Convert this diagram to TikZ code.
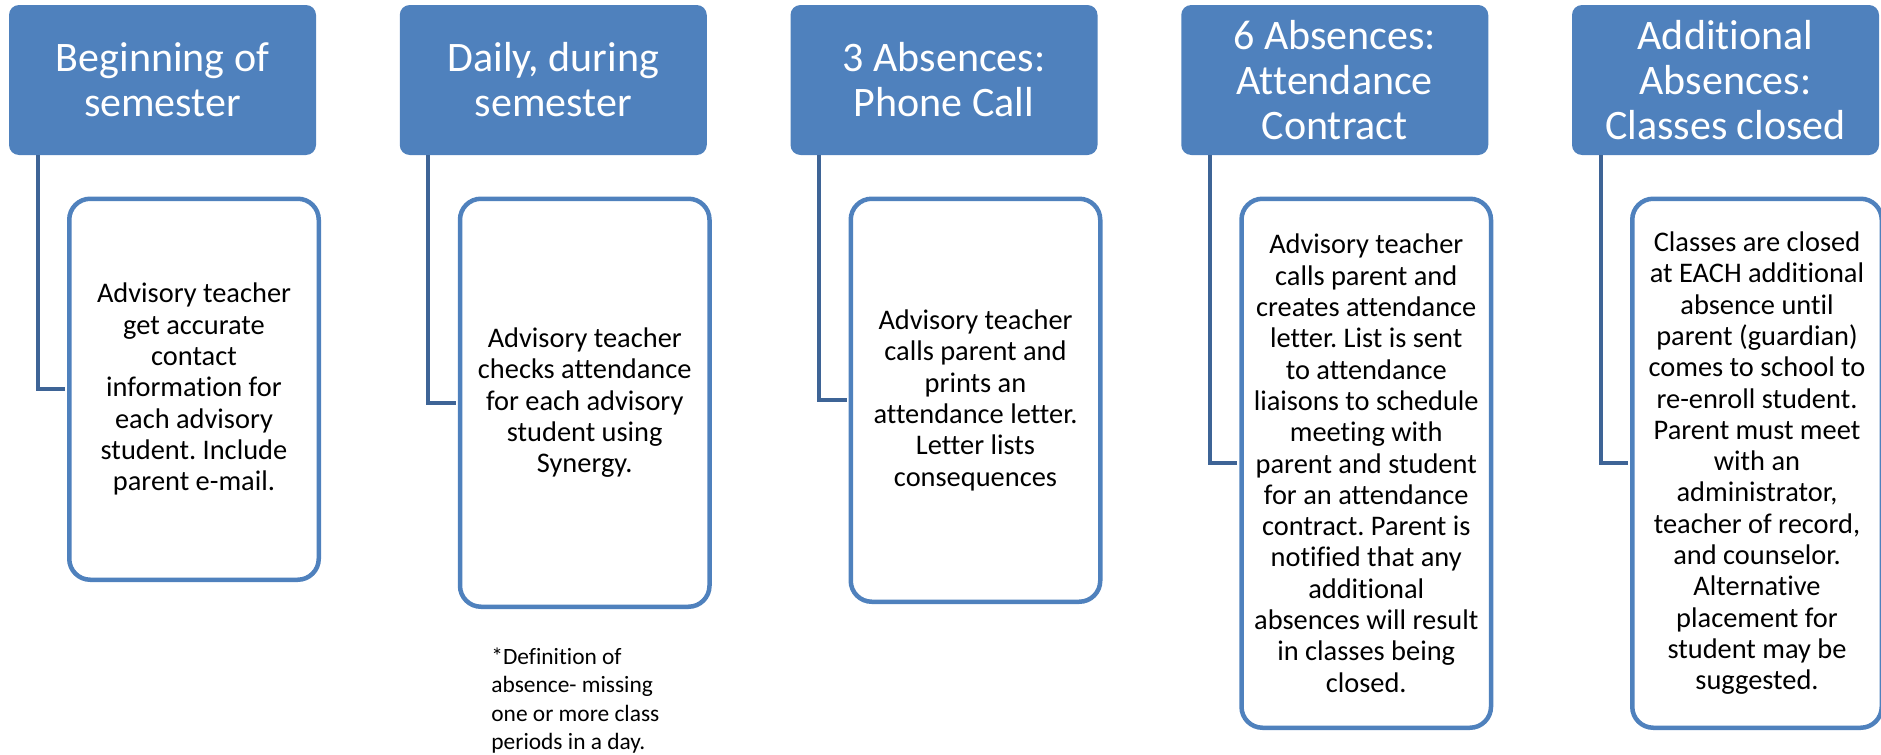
\documentclass[tikz,border=0pt]{standalone}
\usepackage{fontspec}
\setmainfont{Carlito}[Ligatures=NoCommon]
\usepackage{tikz}
\definecolor{headblue}{RGB}{79,129,189}
\definecolor{linkblue}{RGB}{62,100,150}
\tikzset{
  head/.style={fill=headblue, text=white, rounded corners=5pt,
    minimum width=153.5pt, minimum height=75pt, align=center,
    font={\fontsize{21pt}{22.5pt}\selectfont}},
  item/.style={draw=headblue, line width=2.25pt, fill=white, rounded corners=10.5pt,
    minimum width=124.75pt, align=center,
    font={\fontsize{14.2pt}{15.65pt}\selectfont}},
  link/.style={draw=linkblue, line width=2pt, shorten >=1pt},
  note/.style={align=left, font={\fontsize{11.7pt}{14.25pt}\selectfont}}}
\frenchspacing

\begin{document}
\begin{tikzpicture}[x=0.5pt,y=-0.5pt]
\tikzstyle{every node}+=[inner sep=0pt]
\useasboundingbox (0,0) rectangle (1881,755);
\node [head] (h1) at (162.5,80) {Beginning of\\semester};
\node [head] (h2) at (553.25,80) {Daily, during\\semester};
\node [head] (h3) at (944,80) {3 Absences:\\Phone Call};
\node [head] (h4) at (1334.75,80) {6 Absences:\\Attendance\\Contract};
\node [head] (h5) at (1725.5,80) {Additional\\Absences:\\Classes closed};
\node [item, minimum height=190.5pt] (b1) at (194,389.25) {Advisory teacher\\get accurate\\contact\\information for\\each advisory\\student. Include\\parent e-mail.};
\node [item, minimum height=204pt] (b2) at (584.75,402.75) {Advisory teacher\\checks attendance\\for each advisory\\student using\\Synergy.};
\node [item, minimum height=201.5pt] (b3) at (975.5,400.25) {Advisory teacher\\calls parent and\\prints an\\attendance letter.\\Letter lists\\consequences};
\node [item, minimum height=264.5pt] (b4) at (1366.25,463.25) {Advisory teacher\\calls parent and\\creates attendance\\letter. List is sent\\to attendance\\liaisons to schedule\\meeting with\\parent and student\\for an attendance\\contract. Parent is\\notified that any\\additional\\absences will result\\in classes being\\closed.};
\node [item, minimum height=264.5pt] (b5) at (1757,463.25) {Classes are closed\\at EACH additional\\absence until\\parent (guardian)\\comes to school to\\re-enroll student.\\Parent must meet\\with an\\administrator,\\teacher of record,\\and counselor.\\Alternative\\placement for\\student may be\\suggested.};
\node [note, anchor=north west] (n2) at (491,647) {*Definition of\\absence- missing\\one or more class\\periods in a day.};
\draw [link] ([xshift=14.5pt]h1.south west) |- (b1.west);
\draw [link] ([xshift=14.5pt]h2.south west) |- (b2.west);
\draw [link] ([xshift=14.5pt]h3.south west) |- (b3.west);
\draw [link] ([xshift=14.5pt]h4.south west) |- (b4.west);
\draw [link] ([xshift=14.5pt]h5.south west) |- (b5.west);
\end{tikzpicture}
\end{document}
